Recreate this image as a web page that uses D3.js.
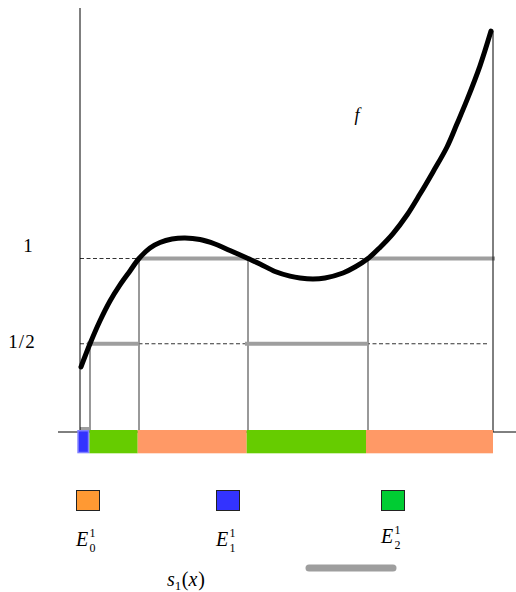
<!DOCTYPE html>
<html>
<head>
<meta charset="utf-8">
<script src="https://cdn.jsdelivr.net/npm/d3@7"></script>
<style>
  html, body { margin: 0; padding: 0; background: #fff; }
  svg { display: block; }
</style>
</head>
<body>
<svg id="chart" width="516" height="592"></svg>
<script>
// ---- data ----
// curve f
const curveX = [0.01, 0.10, 0.20, 0.30, 0.40, 0.50, 0.59, 0.70, 0.80, 0.92, 1.05, 1.20, 1.35, 1.50, 1.68,
                1.80, 1.95, 2.10, 2.20, 2.33, 2.45, 2.63, 2.75, 2.88, 3.00, 3.13, 3.27, 3.40, 3.53, 3.67, 3.77, 3.87, 4.00, 4.11];
const curveY = [0.364, 0.500, 0.635, 0.751, 0.845, 0.927, 1.000, 1.062, 1.094, 1.114, 1.120, 1.111, 1.085, 1.047, 1.000,
                0.968, 0.924, 0.897, 0.886, 0.880, 0.886, 0.915, 0.950, 1.000, 1.065, 1.146, 1.255, 1.378, 1.508, 1.654, 1.790, 1.930, 2.130, 2.334];
// simple function s1: step segments
const stepStart = [0.00, 0.07, 0.583, 1.65, 2.88];
const stepEnd   = [0.09, 0.585, 1.667, 2.88, 4.15];
const stepValue = [0, 0.5, 1, 0.5, 1];
// vertical guides at the break points
const breakX = [0.10, 0.59, 1.68, 2.88];
const breakTop = [0.5, 1, 1, 1];
// coloured intervals on the x axis
const bandEdges = [-0.027, 0.093, 0.577, 1.667, 2.86, 4.13];
const bandColors = ["#3333ff", "#66cc00", "#ff9966", "#66cc00", "#ff9966"];
// y levels
const levelValues = [1, 0.5];
const levelLabels = ["1", "1/2"];
const levelEnd = [4.13, 4.08];
// legend
const legendNames = ["E", "E", "E"];
const legendSub = ["0", "1", "2"];
const legendSup = ["1", "1", "1"];
const legendColors = ["#ff9933", "#3333ff", "#00cc33"];
const xMax = 4.13;

// ---- layout ----
const FONT = "'Liberation Serif', 'DejaVu Serif', 'Times New Roman', serif";
const svg = d3.select("#chart");
const x = d3.scaleLinear().domain([0, xMax]).range([80, 493]);
const y = d3.scaleLinear().domain([0, 1]).range([429, 258.5]);
const axisY = 432;

// dashed levels
svg.selectAll("line.level").data(levelValues).join("line")
  .attr("class", "level")
  .attr("x1", x(0)).attr("x2", (d, i) => x(levelEnd[i]))
  .attr("y1", d => y(d)).attr("y2", d => y(d))
  .attr("stroke", "#333").attr("stroke-width", 1)
  .attr("stroke-dasharray", "4,2.5");

// level labels
const labelX = [28, 22];
const labelDy = [-6.5, 4.5];
svg.selectAll("text.level").data(levelLabels).join("text")
  .attr("class", "level")
  .attr("x", (d, i) => labelX[i])
  .attr("y", (d, i) => y(levelValues[i]) + labelDy[i])
  .attr("text-anchor", "middle")
  .attr("font-family", FONT)
  .attr("font-size", 19)
  .attr("letter-spacing", (d, i) => i === 1 ? 1 : 0)
  .text(d => d);

// vertical guides
svg.selectAll("line.guide").data(breakX).join("line")
  .attr("class", "guide")
  .attr("x1", d => x(d)).attr("x2", d => x(d))
  .attr("y1", (d, i) => y(breakTop[i])).attr("y2", axisY)
  .attr("stroke", "#777").attr("stroke-width", 1.5);

// step function segments
svg.selectAll("line.step").data(stepValue).join("line")
  .attr("class", "step")
  .attr("x1", (d, i) => x(stepStart[i])).attr("x2", (d, i) => x(stepEnd[i]))
  .attr("y1", d => y(d)).attr("y2", d => y(d))
  .attr("stroke", "#9e9e9e").attr("stroke-width", 4);

// axes
svg.append("line")
  .attr("x1", x(0)).attr("x2", x(0)).attr("y1", 8).attr("y2", axisY)
  .attr("stroke", "#000").attr("stroke-width", 1);
svg.append("line")
  .attr("x1", 58).attr("x2", 516).attr("y1", axisY).attr("y2", axisY)
  .attr("stroke", "#000").attr("stroke-width", 1);
svg.append("line")
  .attr("x1", x(xMax)).attr("x2", x(xMax))
  .attr("y1", y(curveY[curveY.length - 1])).attr("y2", axisY)
  .attr("stroke", "#000").attr("stroke-width", 1);

// coloured bands
const bands = bandColors.map((c, i) => ({ x0: bandEdges[i], x1: bandEdges[i + 1], c }));
svg.selectAll("rect.band").data(bands.slice(1)).join("rect")
  .attr("class", "band")
  .attr("x", d => x(d.x0)).attr("width", d => x(d.x1) - x(d.x0))
  .attr("y", axisY - 2).attr("height", 23.3)
  .attr("fill", d => d.c);
svg.append("rect")
  .datum(bands[0])
  .attr("x", d => x(d.x0) + 0.75).attr("width", d => x(d.x1) - x(d.x0) - 1.5)
  .attr("y", axisY - 1.25).attr("height", 21.8)
  .attr("fill", d => d.c)
  .attr("stroke", "#8080ff").attr("stroke-width", 1.5);

// curve f
const pts = curveX.map((v, i) => [v, curveY[i]]);
svg.append("path")
  .datum(pts)
  .attr("d", d3.line().x(d => x(d[0])).y(d => y(d[1])).curve(d3.curveCatmullRom.alpha(0.5)))
  .attr("fill", "none").attr("stroke", "#000").attr("stroke-width", 5)
  .attr("stroke-linecap", "round").attr("stroke-linejoin", "round");

svg.append("text")
  .attr("x", 357).attr("y", 121)
  .attr("text-anchor", "middle")
  .attr("font-family", FONT)
  .attr("font-size", 18).attr("font-style", "italic")
  .text("f");

// legend
const legX = [76, 216, 381];
const legLabelY = [546, 546, 543];
legendColors.forEach((c, i) => {
  svg.append("rect")
    .attr("x", legX[i] + 0.5).attr("y", 490.5)
    .attr("width", 23).attr("height", 20)
    .attr("fill", c).attr("stroke", "#222").attr("stroke-width", 1);
  svg.append("text").attr("x", legX[i]).attr("y", legLabelY[i])
    .attr("font-family", FONT).attr("font-size", 20).attr("font-style", "italic")
    .text(legendNames[i]);
  svg.append("text").attr("x", legX[i] + 13.5).attr("y", legLabelY[i] - 9)
    .attr("font-family", FONT).attr("font-size", 12).text(legendSup[i]);
  svg.append("text").attr("x", legX[i] + 13.5).attr("y", legLabelY[i] + 6)
    .attr("font-family", FONT).attr("font-size", 12).text(legendSub[i]);
});

// s1(x) legend line
svg.append("line")
  .attr("x1", 309).attr("x2", 393).attr("y1", 568).attr("y2", 568)
  .attr("stroke", "#9e9e9e").attr("stroke-width", 7).attr("stroke-linecap", "round");
const s = svg.append("text").attr("x", 167).attr("y", 586)
  .attr("font-family", FONT).attr("font-size", 20);
s.append("tspan").attr("font-style", "italic").text("s");
s.append("tspan").attr("font-size", 13).attr("dy", 4).text("1");
s.append("tspan").attr("dy", -4).attr("dx", 0.5).text("(");
s.append("tspan").attr("font-style", "italic").text("x");
s.append("tspan").attr("dx", 1).text(")");
</script>
</body>
</html>
